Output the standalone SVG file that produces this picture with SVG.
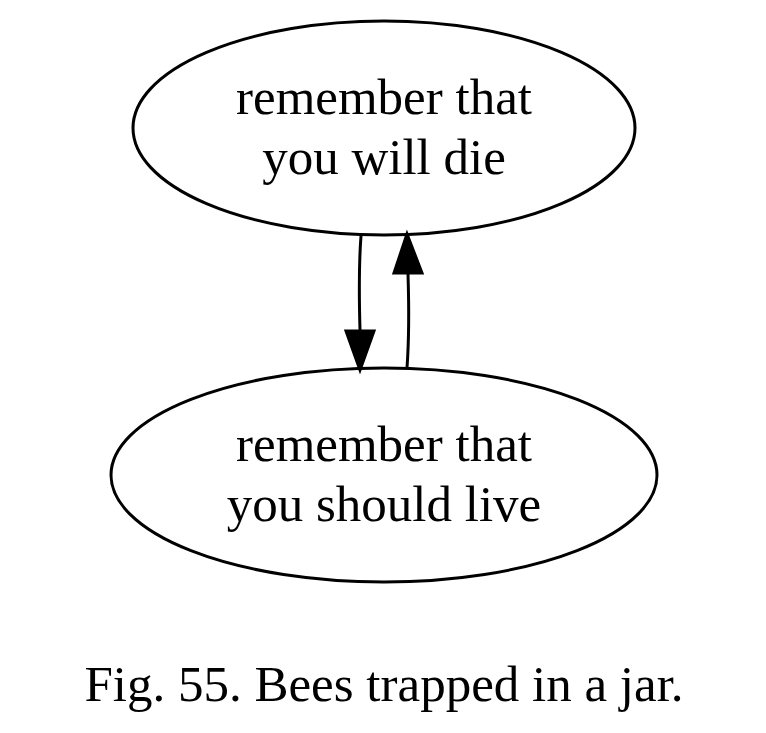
<svg xmlns="http://www.w3.org/2000/svg" width="766" height="733" viewBox="0 0 766 733">
<style>
.n{fill:none;stroke:#000;stroke-width:3}
.t{font-family:"Liberation Serif",serif;font-size:51px;text-anchor:middle;fill:#000}
.e{fill:none;stroke:#000;stroke-width:3}
.h{fill:#000;stroke:#000;stroke-width:3}
</style>
<rect width="766" height="733" fill="#fff"/>
<g id="die">
<ellipse class="n" cx="384" cy="128" rx="251" ry="107"/>
<text class="t" x="384" y="114">remember that</text>
<text class="t" x="384" y="174">you will die</text>
</g>
<g id="live">
<ellipse class="n" cx="384" cy="475" rx="273" ry="107"/>
<text class="t" x="384" y="461">remember that</text>
<text class="t" x="384" y="521">you should live</text>
</g>
<g id="edges">
<path class="e" d="M361,236 C359,262 359,295 360,330"/>
<polygon class="h" points="346,331 374,331 360,370"/>
<path class="e" d="M407,368 C409,340 409,305 408,274"/>
<polygon class="h" points="394,273 422,273 407,234"/>
</g>
<text class="t" x="384" y="701">Fig. 55. Bees trapped in a jar.</text>
</svg>
